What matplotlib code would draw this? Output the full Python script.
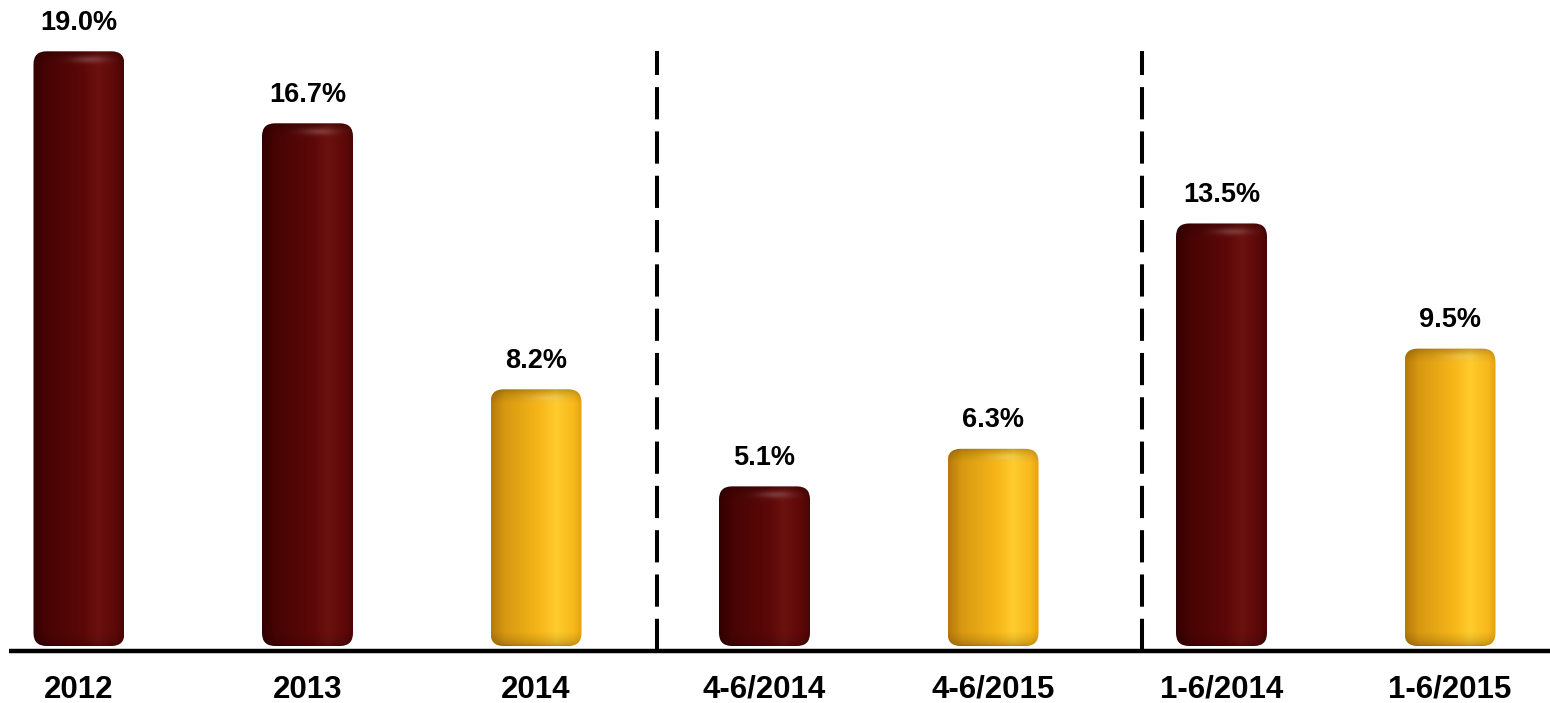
import matplotlib
matplotlib.use("Agg")
import matplotlib.pyplot as plt
import numpy as np
from matplotlib.patches import FancyBboxPatch

categories = ["2012", "2013", "2014", "4-6/2014", "4-6/2015", "1-6/2014", "1-6/2015"]
values = [19.0, 16.7, 8.2, 5.1, 6.3, 13.5, 9.5]
is_current = [False, False, True, False, True, False, True]
separators = [2.53, 4.65]

W, H = 1550, 703
fig = plt.figure(figsize=(W / 100, H / 100), dpi=100)
ax = fig.add_axes([0, 0, 1, 1])

step_px = 228.5
first_px = 79
base_px = 646
px_per_unit = 31.3
ax.set_xlim(-first_px / step_px, (W - first_px) / step_px)
ax.set_ylim(-(H - base_px) / px_per_unit, base_px / px_per_unit)
ax.axis("off")

bar_w = 91 / step_px
r_x = 13 / step_px
aspect = step_px / px_per_unit


def bar_image(dark, mid, light, edge, h_px):
    nx, ny = 90, max(int(h_px), 30)
    t = np.linspace(0, 1, nx)
    # cylinder shading across the bar
    pts = [0.0, 0.15, 0.55, 0.72, 0.92, 1.0]
    cols = np.array([dark, dark * 0.5 + mid * 0.5, mid, light, mid, edge])
    prof = np.stack([np.interp(t, pts, cols[:, k]) for k in range(3)], axis=1)
    img = np.repeat(prof[None, :, :], ny, axis=0)
    # rounded ends get darker
    y = np.arange(ny)
    r = 14.0
    top = np.clip(y / r, 0, 1)
    bot = np.clip((ny - 1 - y) / r, 0, 1)
    shade = 0.72 + 0.28 * np.sqrt(np.minimum(top, bot))
    img = img * shade[:, None, None]
    # soft highlight near the top
    yy, xx = np.meshgrid(y, np.linspace(0, 1, nx), indexing="ij")
    spot = np.exp(-((xx - 0.62) / 0.2) ** 2 - ((yy - 8) / 3.5) ** 2)
    img = img + 0.18 * spot[:, :, None] * (1 - img)
    return np.clip(img, 0, 1)


maroon = dict(dark=np.array([0.20, 0.0, 0.0]), mid=np.array([0.36, 0.03, 0.03]),
              light=np.array([0.42, 0.07, 0.06]), edge=np.array([0.28, 0.02, 0.02]))
gold = dict(dark=np.array([0.72, 0.48, 0.04]), mid=np.array([0.97, 0.72, 0.10]),
            light=np.array([1.0, 0.80, 0.18]), edge=np.array([0.90, 0.64, 0.06]))

for i, (cat, v, cur) in enumerate(zip(categories, values, is_current)):
    x0 = i - bar_w / 2
    patch = FancyBboxPatch((x0, 0), bar_w, v,
                           boxstyle=f"round,pad=0,rounding_size={r_x}",
                           mutation_aspect=aspect, facecolor="none",
                           edgecolor="none", zorder=2)
    ax.add_patch(patch)
    pal = gold if cur else maroon
    img = bar_image(h_px=v * px_per_unit, **pal)
    im = ax.imshow(img, extent=(x0, x0 + bar_w, 0, v), origin="upper",
                   aspect="auto", interpolation="bilinear", zorder=2)
    im.set_clip_path(patch)
    ax.text(i, v + 0.5, f"{v:.1f}%", ha="center", va="bottom",
            fontsize=19.5, fontweight="bold", family="Liberation Sans")
    ax.text(i, -1.4, cat, ha="center", va="center",
            fontsize=22.5, fontweight="bold", family="Liberation Sans")

ax.plot([(9 - first_px) / step_px, (W - first_px) / step_px], [-0.16, -0.16],
        color="black", linewidth=3.2, zorder=3, solid_capstyle="butt")
for s in separators:
    ax.plot([s, s], [-0.16, 19.0], color="black", linewidth=2.9,
            linestyle=(0, (8, 3)), zorder=1)

fig.savefig("out.png", dpi=100, facecolor="white")
